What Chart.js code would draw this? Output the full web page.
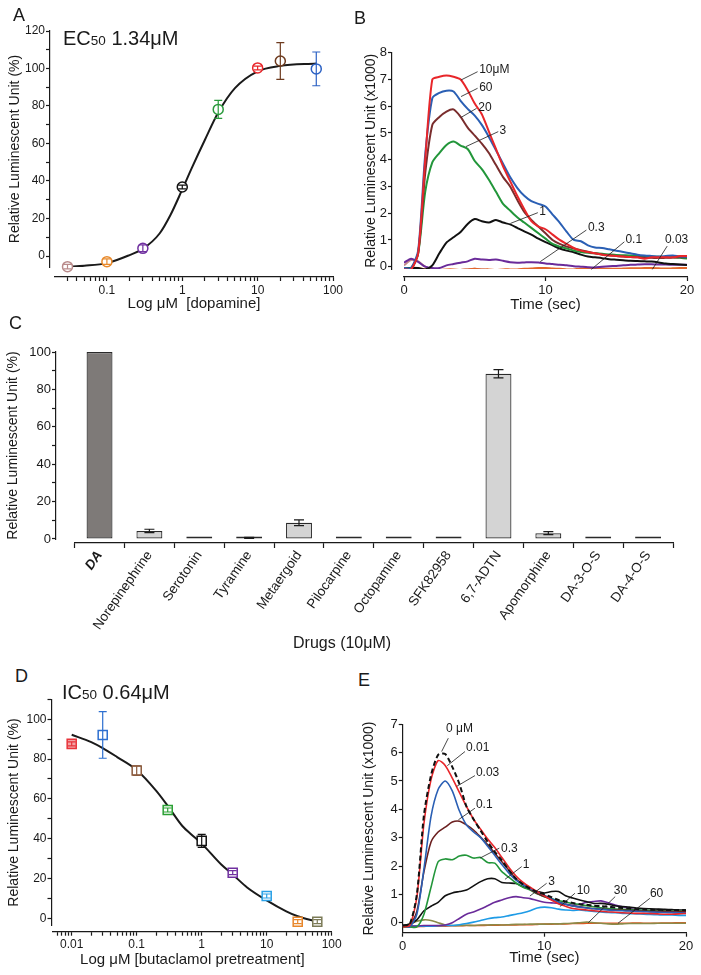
<!DOCTYPE html>
<html>
<head>
<meta charset="utf-8">
<title>Dopamine receptor luminescence</title>
<script src="https://cdn.jsdelivr.net/npm/chart.js@4.4.1/dist/chart.umd.min.js"></script>
<style>
  body { margin: 0; background: #fff; }
  #page { position: relative; width: 701px; height: 975px; overflow: hidden;
          font-family: "Liberation Sans", Arial, sans-serif; color: #1a1a1a; }
  #page canvas { position: absolute; }
  .tag { position: absolute; font-size: 18px; line-height: 1; }
  .fit { position: absolute; font-size: 20px; line-height: 1; white-space: nowrap; }
  .fit small { font-size: 13.5px; }
  .xname { position: absolute; font-size: 16px; line-height: 1; white-space: nowrap; }
</style>
</head>
<body>
<div id="page">
  <canvas id="chartA"></canvas>
  <canvas id="chartB"></canvas>
  <canvas id="chartC"></canvas>
  <canvas id="chartD"></canvas>
  <canvas id="chartE"></canvas>
  <div class="tag" style="left:13px;top:6px">A</div>
  <div class="tag" style="left:354px;top:9px">B</div>
  <div class="tag" style="left:9px;top:314px">C</div>
  <div class="tag" style="left:15px;top:667px">D</div>
  <div class="tag" style="left:358px;top:671px">E</div>
  <div class="fit" style="left:63px;top:28px">EC<small>50</small> 1.34μM</div>
  <div class="fit" style="left:62px;top:682px">IC<small>50</small> 0.64μM</div>
  <div class="xname" style="left:293px;top:635px">Drugs (10μM)</div>
</div>
<script>
// ---- Panel A: dopamine dose response ----
const doseA = [0.03, 0.1, 0.3, 1, 3, 10, 20, 60];
const responseA = [-5.7, -3, 4.1, 36.8, 78.2, 100.3, 104, 99.8];
const errorA = [1.2, 1.5, 1.8, 1, 4.8, 1, 9.8, 9];
const fitDoseA = [0.03, 0.05, 0.1, 0.2, 0.3, 0.5, 0.7, 1, 1.34, 2, 3, 5, 10, 20, 60];
const fitA = [-5.7, -5.2, -3.8, 0.5, 3.8, 12, 22, 35.5, 47, 62, 76.5, 89.5, 98.5, 101.4, 102.7];

// ---- Panel B: luminescence traces per dopamine dose (x1000) ----
const labelsB = ['10μM', '60', '20', '3', '1', '0.3', '0.1', '0.03'];
const timeB = [0,0.5,1,1.5,2,2.5,3,3.5,4,4.5,5,5.5,6,6.5,7,7.5,8,8.5,9,9.5,10,10.5,11,11.5,12,12.5,13,13.5,14,14.5,15,15.5,16,16.5,17,17.5,18,18.5,19,19.5,20];
const b10uM = [-0.1,-0.1,0.5,4.0,7.0,7.1,7.15,7.1,7.0,6.6,6.1,5.7,5.05,4.4,3.75,3.2,2.65,2.15,1.7,1.5,1.4,1.2,1.0,0.85,0.7,0.6,0.55,0.5,0.45,0.42,0.4,0.38,0.36,0.35,0.3,0.35,0.35,0.35,0.35,0.4,0.4];
const b60uM = [-0.05,-0.05,0.6,4.2,6.3,6.5,6.58,6.55,6.2,5.9,5.65,5.3,4.85,4.35,3.85,3.35,2.95,2.65,2.45,2.35,2.25,1.95,1.65,1.3,1.0,0.95,0.8,0.72,0.7,0.65,0.6,0.55,0.5,0.45,0.42,0.4,0.38,0.4,0.42,0.38,0.37];
const b20uM = [-0.1,-0.1,0.5,3.5,5.3,5.6,5.8,5.88,5.6,5.2,4.9,4.6,4.25,3.8,3.35,3.0,2.5,2.05,1.75,1.5,1.25,1.0,0.85,0.75,0.68,0.62,0.56,0.5,0.46,0.43,0.4,0.38,0.36,0.35,0.34,0.33,0.33,0.33,0.34,0.35,0.35];
const b3uM = [-0.05,-0.05,0.5,2.8,3.9,4.25,4.55,4.68,4.53,4.4,3.95,3.65,3.25,2.8,2.35,2.1,1.85,1.65,1.45,1.25,1.05,0.85,0.75,0.68,0.6,0.55,0.52,0.5,0.48,0.46,0.44,0.43,0.42,0.4,0.4,0.38,0.37,0.36,0.35,0.33,0.31];
const b1uM = [-0.05,-0.05,-0.05,-0.1,0.05,0.5,0.9,1.1,1.3,1.6,1.78,1.7,1.65,1.75,1.65,1.58,1.45,1.32,1.2,1.05,0.92,0.8,0.68,0.6,0.54,0.45,0.38,0.35,0.32,0.28,0.26,0.24,0.22,0.21,0.2,0.19,0.16,0.12,0.1,0.08,0.06];
const b03uM = [0.15,0.3,0.18,0.0,-0.05,-0.05,0.05,0.1,0.15,0.2,0.3,0.27,0.25,0.27,0.22,0.17,0.15,0.16,0.17,0.16,0.12,0.1,0.07,0.05,0.02,0.0,-0.02,-0.03,0.0,0.02,0.03,0.05,0.07,0.08,0.09,0.09,0.08,0.08,0.07,0.07,0.07];
const b01uM = [-0.1,-0.05,-0.05,-0.1,-0.12,-0.12,-0.1,-0.1,-0.12,-0.1,-0.08,-0.1,-0.1,-0.12,-0.1,-0.1,-0.1,-0.08,-0.07,-0.05,-0.05,-0.07,-0.08,-0.1,-0.1,-0.08,-0.05,-0.05,-0.07,-0.08,-0.08,-0.07,-0.06,-0.06,-0.05,-0.05,-0.06,-0.07,-0.06,-0.05,-0.05];
const b003uM = [0.05,0.25,0.2,0.0,-0.1,-0.12,-0.12,-0.13,-0.12,-0.1,-0.08,-0.1,-0.12,-0.12,-0.13,-0.12,-0.12,-0.11,-0.1,-0.1,-0.1,-0.12,-0.13,-0.13,-0.12,-0.12,-0.11,-0.1,-0.1,-0.11,-0.12,-0.12,-0.12,-0.11,-0.1,-0.1,-0.11,-0.12,-0.12,-0.12,-0.12];

// ---- Panel C: drugs at 10μM ----
const drugsC = ['DA', 'Norepinephrine', 'Serotonin', 'Tyramine', 'Metaergoid', 'Pilocarpine',
                'Octopamine', 'SFK82958', '6,7-ADTN', 'Apomorphine', 'DA-3-O-S', 'DA-4-O-S'];
const responseC = [100, 4.3, 0.4, 0.6, 8.7, 0.4, 0.4, 0.2, 88.4, 3.1, 0.4, 1.0];
const errorC = [0, 0.9, 0, 0.3, 1.5, 0, 0, 0, 2.2, 0.8, 0, 0];

// ---- Panel D: butaclamol inhibition ----
const doseD = [0.01, 0.03, 0.1, 0.3, 1, 3, 10, 30, 60];
const responseD = [87.6, 92.1, 74.2, 54.4, 38.9, 22.9, 11.2, -1.7, -1.7];
const errorD = [1, 11.7, 2.4, 1, 3.3, 1, 1, 1, 1];
const fitDoseD = [0.01, 0.02, 0.03, 0.05, 0.1, 0.2, 0.3, 0.5, 0.7, 1, 2, 3, 5, 10, 20, 30, 60];
const fitD = [92.2, 88.5, 85.5, 81, 74.5, 64, 56.5, 46.5, 42, 37.5, 27, 22, 15.5, 9, 3.5, 1, -1.7];

// ---- Panel E: traces per butaclamol dose (x1000) ----
const labelsE = ['0 μM', '0.01', '0.03', '0.1', '0.3', '1', '3', '10', '30', '60'];
const timeE = timeB;
const e0uM = [-0.1,-0.05,1.0,3.8,5.2,5.92,5.95,5.5,4.9,4.1,3.65,3.25,2.85,2.5,2.2,1.85,1.55,1.35,1.2,1.08,1.0,0.9,0.8,0.75,0.7,0.65,0.63,0.6,0.58,0.56,0.54,0.52,0.5,0.48,0.47,0.46,0.46,0.45,0.45,0.45,0.44];
const e001uM = [-0.15,-0.1,0.9,3.5,5.05,5.72,5.55,5.1,4.6,4.1,3.65,3.3,2.95,2.65,2.3,1.95,1.65,1.42,1.25,1.1,0.95,0.8,0.67,0.58,0.5,0.47,0.45,0.42,0.4,0.38,0.37,0.35,0.34,0.33,0.33,0.32,0.31,0.3,0.3,0.31,0.33];
const e003uM = [-0.1,-0.15,0.3,1.9,3.75,4.7,5.0,4.65,3.95,3.45,3.2,3.0,2.7,2.38,2.05,1.75,1.5,1.33,1.2,1.08,0.97,0.85,0.73,0.65,0.59,0.55,0.52,0.49,0.47,0.45,0.43,0.42,0.41,0.4,0.39,0.38,0.37,0.36,0.36,0.35,0.35];
const e01uM = [-0.1,-0.1,0.4,1.8,2.85,3.2,3.37,3.55,3.58,3.45,3.27,3.02,2.75,2.45,2.15,1.85,1.55,1.35,1.18,1.03,0.92,0.82,0.73,0.65,0.59,0.56,0.53,0.5,0.48,0.46,0.45,0.44,0.43,0.42,0.41,0.4,0.4,0.4,0.39,0.39,0.39];
const e03uM = [-0.15,-0.15,-0.15,0.3,1.25,2.15,2.25,2.22,2.35,2.38,2.28,2.3,2.12,2.1,1.8,1.6,1.4,1.25,1.15,1.02,0.92,0.85,0.78,0.73,0.68,0.64,0.6,0.56,0.53,0.5,0.48,0.47,0.46,0.45,0.44,0.43,0.42,0.42,0.41,0.41,0.41];
const e1uM = [-0.1,-0.05,0.1,0.42,0.58,0.72,0.95,1.05,1.1,1.15,1.3,1.45,1.55,1.55,1.42,1.4,1.38,1.27,1.18,1.1,1.05,1.1,1.1,0.95,0.87,0.8,0.74,0.68,0.68,0.65,0.6,0.57,0.55,0.52,0.5,0.49,0.48,0.47,0.46,0.45,0.45];
const e3uM = [-0.12,-0.12,-0.12,-0.1,-0.1,-0.1,-0.08,0.0,0.15,0.3,0.38,0.48,0.6,0.72,0.8,0.88,0.92,0.88,0.85,0.78,0.72,0.7,0.68,0.65,0.62,0.65,0.72,0.75,0.77,0.7,0.62,0.56,0.5,0.46,0.43,0.4,0.38,0.37,0.36,0.35,0.35];
const e10uM = [-0.12,-0.12,-0.12,-0.12,-0.12,-0.11,-0.1,-0.1,-0.07,-0.03,0.02,0.08,0.14,0.18,0.2,0.25,0.3,0.35,0.42,0.52,0.55,0.53,0.48,0.45,0.43,0.45,0.42,0.4,0.38,0.36,0.35,0.33,0.32,0.31,0.3,0.29,0.28,0.27,0.27,0.26,0.26];
const e30uM = [-0.12,-0.05,0.05,0.1,0.08,0.0,-0.08,-0.1,-0.1,-0.09,-0.1,-0.08,-0.08,-0.07,-0.08,-0.07,-0.06,-0.06,-0.05,-0.05,-0.05,-0.04,-0.04,-0.03,-0.02,0.0,0.02,0.0,-0.02,-0.04,-0.05,-0.04,-0.03,-0.03,-0.03,-0.03,-0.02,-0.02,-0.02,-0.02,-0.02];
const e60uM = [-0.15,-0.15,-0.14,-0.13,-0.12,-0.12,-0.12,-0.11,-0.11,-0.1,-0.1,-0.1,-0.09,-0.09,-0.08,-0.08,-0.08,-0.07,-0.07,-0.06,-0.05,-0.05,-0.04,-0.04,-0.03,-0.03,-0.02,-0.02,-0.02,-0.02,-0.02,-0.02,-0.02,-0.01,-0.02,-0.02,-0.02,-0.01,-0.01,0.0,0.0];

// ---- ticks ----
const yTicksA = [0,10,20,30,40,50,60,70,80,90,100,110,120];
const yLabelsA = [0,20,40,60,80,100,120];
const xLabelsA = [0.1, 1, 10, 100];
const yTicksB = [0,1,2,3,4,5,6,7,8];
const timeTicks = [0, 10, 20];
const yTicksC = [0,10,20,30,40,50,60,70,80,90,100];
const yLabelsC = [0,20,40,60,80,100];
const yTicksD = [0,10,20,30,40,50,60,70,80,90,100,110];
const yLabelsD = [0,20,40,60,80,100];
const xLabelsD = [0.01, 0.1, 1, 10, 100];
const yTicksE = [0,1,2,3,4,5,6,7];

// ---- styling ----
const INK = '#1a1a1a';
const FONT = '"Liberation Sans", Arial, sans-serif';
Chart.defaults.font.family = FONT;
Chart.defaults.color = INK;
Chart.defaults.animation = false;
Chart.defaults.responsive = false;
Chart.defaults.maintainAspectRatio = false;
Chart.defaults.plugins.legend.display = false;
Chart.defaults.plugins.tooltip.enabled = false;

const colorsA = ['#b98a8a', '#e8892b', '#7030a0', '#111111', '#2a9a3c', '#e8262a', '#6e3b1f', '#2d62c4'];
const colorsB = ['#e8262a', '#2a5fb4', '#7a2d2d', '#22963a', '#111111', '#6a2b9a', '#e3662a', '#c28a8a'];
const colorsD = ['#e8333a', '#2d6fd0', '#8a5a3c', '#2aa033', '#111111', '#7030a0', '#2aa0e6', '#e8862a', '#7b7a56'];
const colorsE = ['#111111', '#e8262a', '#2a5fb4', '#6b1f1f', '#22963a', '#111111', '#6a2b9a', '#1e9be6', '#8c8a48', '#e8521e'];

// page boxes: canvas placement and the plot area wanted inside it
const panels = {
  A: { left: 0, top: 20, width: 350, height: 300, area: { left: 55, right: 333, top: 31, bottom: 277 } },
  B: { left: 345, top: 40, width: 356, height: 280, area: { left: 404, right: 687, top: 52.7, bottom: 277 } },
  C: { left: 0, top: 335, width: 690, height: 300, area: { left: 74.6, right: 673, top: 352, bottom: 543 } },
  D: { left: 0, top: 690, width: 345, height: 285, area: { left: 53, right: 331.7, top: 699.3, bottom: 931.7 } },
  E: { left: 345, top: 700, width: 356, height: 275, area: { left: 402.7, right: 686, top: 724.3, bottom: 932.7 } }
};

function placeCanvas(id, p) {
  const c = document.getElementById(id);
  c.width = p.width;
  c.height = p.height;
  c.style.left = p.left + 'px';
  c.style.top = p.top + 'px';
  return c;
}

function padding(p) {
  return { left: 0, bottom: 0, top: p.area.top - p.top, right: p.left + p.width - p.area.right };
}

function minorLogTicks(lo, hi) {
  const out = [];
  for (let e = -3; e <= 2; e++) {
    for (let m = 2; m <= 9; m++) {
      const v = m * Math.pow(10, e);
      if (v >= lo && v <= hi) out.push(v);
    }
  }
  return out;
}

function scaleOf(o) {
  return {
    type: o.type || 'linear',
    min: o.min,
    max: o.max,
    border: { color: INK, width: 1.2 },
    grid: { drawOnChartArea: false, tickLength: 4, tickColor: INK, tickWidth: 1.2 },
    ticks: {
      autoSkip: false, maxRotation: 0, padding: o.pad == null ? 2 : o.pad, color: INK,
      font: { size: o.size || 12 },
      callback: v => (o.labels || o.ticks).indexOf(v) >= 0 ? String(v) : ''
    },
    title: o.title
      ? { display: true, text: o.title, color: INK, font: { size: o.titleSize }, padding: o.titlePad }
      : { display: false },
    afterBuildTicks: s => { s.ticks = o.ticks.map(v => ({ value: v })); },
    afterFit: s => {
      if (o.width != null) s.width = o.width;
      if (o.height != null) s.height = o.height;
    }
  };
}

// moves the y axis line left of the plot and stops it short, like the original figure
function detachY(shift, shorten) {
  return {
    id: 'detachY',
    afterLayout(chart) {
      const y = chart.scales.y;
      y.right -= shift;
      y.bottom -= shorten;
    }
  };
}

const errorBars = {
  id: 'errorBars',
  afterDatasetsDraw(chart) {
    const ctx = chart.ctx;
    chart.data.datasets.forEach((ds, i) => {
      if (!ds.errors) return;
      const meta = chart.getDatasetMeta(i);
      const yScale = chart.scales[meta.yAxisID];
      meta.data.forEach((el, j) => {
        const err = ds.errors[j];
        if (!err) return;
        const raw = ds.data[j];
        const v = typeof raw === 'object' ? raw.y : raw;
        const top = yScale.getPixelForValue(v + err);
        const bot = yScale.getPixelForValue(v - err);
        const cap = ds.errorCap || 4;
        ctx.save();
        ctx.strokeStyle = Array.isArray(ds.errorColor) ? ds.errorColor[j] : ds.errorColor;
        ctx.lineWidth = 1.2;
        ctx.beginPath();
        ctx.moveTo(el.x, top); ctx.lineTo(el.x, bot);
        ctx.moveTo(el.x - cap, top); ctx.lineTo(el.x + cap, top);
        ctx.moveTo(el.x - cap, bot); ctx.lineTo(el.x + cap, bot);
        ctx.stroke();
        ctx.restore();
      });
    });
  }
};

function callouts(items) {
  return {
    id: 'callouts',
    afterDatasetsDraw(chart) {
      const { ctx, scales: { x, y } } = chart;
      ctx.save();
      ctx.strokeStyle = INK;
      ctx.lineWidth = 0.8;
      ctx.fillStyle = INK;
      ctx.font = '12px ' + FONT;
      ctx.textBaseline = 'middle';
      ctx.textAlign = 'left';
      items.forEach(c => {
        ctx.beginPath();
        ctx.moveTo(x.getPixelForValue(c.from[0]), y.getPixelForValue(c.from[1]));
        ctx.lineTo(x.getPixelForValue(c.to[0]), y.getPixelForValue(c.to[1]));
        ctx.stroke();
        ctx.fillText(c.text, x.getPixelForValue(c.at[0]), y.getPixelForValue(c.at[1]));
      });
      ctx.restore();
    }
  };
}

const toPoints = (xs, ys) => xs.map((x, i) => ({ x: x, y: ys[i] }));

// ---- Panel A ----
(function () {
  const p = panels.A;
  new Chart(placeCanvas('chartA', p), {
    type: 'scatter',
    data: {
      datasets: [{
        data: toPoints(doseA, responseA),
        pointRadius: 5, pointBorderWidth: 1.5,
        pointBorderColor: colorsA, pointBackgroundColor: '#ffffff',
        errors: errorA, errorColor: colorsA, errorCap: 4,
        clip: false, order: 1
      }, {
        data: toPoints(fitDoseA, fitA),
        showLine: true, borderColor: INK, borderWidth: 2, pointRadius: 0,
        cubicInterpolationMode: 'monotone', order: 2
      }]
    },
    options: {
      layout: { padding: padding(p), autoPadding: false },
      scales: {
        x: scaleOf({ type: 'logarithmic', min: 0.02048, max: 100,
          ticks: xLabelsA.concat(minorLogTicks(0.02048, 100)), labels: xLabelsA, size: 12,
          title: 'Log μM  [dopamine]', titleSize: 15, titlePad: { top: 0, bottom: 7 },
          height: p.top + p.height - p.area.bottom }),
        y: scaleOf({ min: -11.2, max: 120, ticks: yTicksA, labels: yLabelsA, size: 12, pad: 1,
          title: 'Relative Luminescent Unit (%)', titleSize: 14, titlePad: { top: 6.6, bottom: 0 },
          width: p.area.left - p.left })
      }
    },
    plugins: [detachY(5, 10), errorBars]
  });
})();

// ---- Panel B ----
(function () {
  const p = panels.B;
  const series = [b10uM, b60uM, b20uM, b3uM, b1uM, b03uM, b01uM, b003uM];
  const spots = [
    { from: [4.03, 6.98], to: [5.2, 7.29], at: [5.31, 7.35] },
    { from: [4.03, 6.36], to: [5.2, 6.67], at: [5.31, 6.7] },
    { from: [4.03, 5.58], to: [5.13, 5.92], at: [5.25, 5.95] },
    { from: [4.38, 4.49], to: [6.66, 5.05], at: [6.75, 5.1] },
    { from: [7.53, 1.62], to: [9.46, 2.02], at: [9.55, 2.07] },
    { from: [9.63, 0.19], to: [12.89, 1.37], at: [13.0, 1.45] },
    { from: [13.24, -0.1], to: [15.57, 0.93], at: [15.65, 1.0] },
    { from: [17.55, -0.1], to: [18.6, 0.77], at: [18.44, 1.02] }
  ];
  new Chart(placeCanvas('chartB', p), {
    type: 'line',
    data: {
      datasets: series.map((s, i) => ({
        label: labelsB[i], data: toPoints(timeB, s),
        borderColor: colorsB[i], borderWidth: 2, pointRadius: 0, tension: 0.25
      }))
    },
    options: {
      layout: { padding: padding(p), autoPadding: false },
      scales: {
        x: scaleOf({ min: 0, max: 20, ticks: timeTicks, size: 13,
          title: 'Time (sec)', titleSize: 15, titlePad: { top: 0, bottom: 6 },
          height: p.top + p.height - p.area.bottom }),
        y: scaleOf({ min: -0.385, max: 8, ticks: yTicksB, size: 13, pad: 1,
          title: 'Relative Luminescent Unit (x1000)', titleSize: 14, titlePad: { top: 17.6, bottom: 0 },
          width: p.area.left - p.left })
      }
    },
    plugins: [detachY(12, 8), callouts(labelsB.map((t, i) => Object.assign({ text: t }, spots[i])))]
  });
})();

// ---- Panel C ----
(function () {
  const p = panels.C;
  const yAxis = scaleOf({ min: -2.14, max: 100, ticks: yTicksC, labels: yLabelsC, size: 13, pad: 1,
    title: 'Relative Luminescent Unit (%)', titleSize: 14, titlePad: { top: 5.1, bottom: 0 },
    width: p.area.left - p.left });
  new Chart(placeCanvas('chartC', p), {
    type: 'bar',
    data: {
      labels: drugsC,
      datasets: [{
        data: responseC,
        backgroundColor: drugsC.map((d, i) => i === 0 ? '#7e7a78' : '#d4d4d4'),
        borderColor: '#2a2a2a', borderWidth: 1.2, borderSkipped: false,
        barPercentage: 0.52, categoryPercentage: 1, minBarLength: 2.5,
        errors: errorC, errorColor: INK, errorCap: 5
      }]
    },
    options: {
      layout: { padding: padding(p), autoPadding: false },
      scales: {
        x: {
          border: { color: INK, width: 1.2 },
          grid: { drawOnChartArea: false, tickLength: 5, tickColor: INK, tickWidth: 1.2 },
          ticks: {
            autoSkip: false, minRotation: 55, maxRotation: 55, padding: 0, color: INK,
            font: ctx => ({ size: 13.5, weight: ctx.index === 0 ? 'bold' : 'normal', style: ctx.index === 0 ? 'italic' : 'normal' })
          },
          afterFit: s => { s.height = p.top + p.height - p.area.bottom; }
        },
        y: yAxis
      }
    },
    plugins: [detachY(18.6, 4), errorBars]
  });
})();

// ---- Panel D ----
(function () {
  const p = panels.D;
  new Chart(placeCanvas('chartD', p), {
    type: 'scatter',
    data: {
      datasets: [{
        data: toPoints(doseD, responseD),
        pointStyle: 'rect', pointRadius: 6.4, pointBorderWidth: 1.5,
        pointBorderColor: colorsD,
        pointBackgroundColor: colorsD.map((c, i) => i === 0 ? '#f3a3a5' : '#ffffff'),
        errors: errorD, errorColor: colorsD, errorCap: 4,
        clip: false, order: 1
      }, {
        data: toPoints(fitDoseD, fitD),
        showLine: true, borderColor: INK, borderWidth: 2, pointRadius: 0,
        cubicInterpolationMode: 'monotone', order: 2
      }]
    },
    options: {
      layout: { padding: padding(p), autoPadding: false },
      scales: {
        x: scaleOf({ type: 'logarithmic', min: 0.005157, max: 100,
          ticks: xLabelsD.concat(minorLogTicks(0.005157, 100)), labels: xLabelsD, size: 12,
          title: 'Log μM [butaclamol pretreatment]', titleSize: 15, titlePad: { top: 0, bottom: 6 },
          height: p.top + p.height - p.area.bottom }),
        y: scaleOf({ min: -6.73, max: 110, ticks: yTicksD, labels: yLabelsD, size: 12, pad: 1,
          title: 'Relative Luminescent Unit (%)', titleSize: 14, titlePad: { top: 5.8, bottom: 0 },
          width: p.area.left - p.left })
      }
    },
    plugins: [detachY(1.5, 6), errorBars]
  });
})();

// ---- Panel E ----
(function () {
  const p = panels.E;
  const series = [e0uM, e001uM, e003uM, e01uM, e03uM, e1uM, e3uM, e10uM, e30uM, e60uM];
  const spots = [
    { from: [2.75, 6.04], to: [3.22, 6.51], at: [3.06, 6.83] },
    { from: [3.15, 5.54], to: [4.4, 6.04], at: [4.47, 6.18] },
    { from: [3.81, 4.81], to: [5.1, 5.19], at: [5.17, 5.3] },
    { from: [3.93, 3.63], to: [5.1, 4.04], at: [5.17, 4.16] },
    { from: [5.46, 2.28], to: [6.82, 2.63], at: [6.94, 2.62] },
    { from: [7.22, 1.53], to: [8.4, 1.98], at: [8.47, 2.04] },
    { from: [8.98, 0.94], to: [10.16, 1.39], at: [10.28, 1.45] },
    { from: [11.1, 0.57], to: [12.16, 1.04], at: [12.28, 1.13] },
    { from: [13.1, 0.0], to: [15.0, 0.92], at: [14.9, 1.13] },
    { from: [15.2, -0.02], to: [17.45, 0.86], at: [17.45, 1.01] }
  ];
  new Chart(placeCanvas('chartE', p), {
    type: 'line',
    data: {
      datasets: series.map((s, i) => ({
        label: labelsE[i], data: toPoints(timeE, s),
        borderColor: colorsE[i], borderWidth: i === 0 ? 2 : 1.6,
        borderDash: i === 0 ? [5, 3] : [], pointRadius: 0, tension: 0.25
      }))
    },
    options: {
      layout: { padding: padding(p), autoPadding: false },
      scales: {
        x: scaleOf({ min: 0, max: 20, ticks: timeTicks, size: 13,
          title: 'Time (sec)', titleSize: 15, titlePad: { top: 0, bottom: 7.7 },
          height: p.top + p.height - p.area.bottom }),
        y: scaleOf({ min: -0.353, max: 7, ticks: yTicksE, size: 13, pad: 1,
          title: 'Relative Luminescent Unit (x1000)', titleSize: 14, titlePad: { top: 15.4, bottom: 0 },
          width: p.area.left - p.left })
      }
    },
    plugins: [callouts(labelsE.map((t, i) => Object.assign({ text: t }, spots[i])))]
  });
})();
</script>
</body>
</html>
